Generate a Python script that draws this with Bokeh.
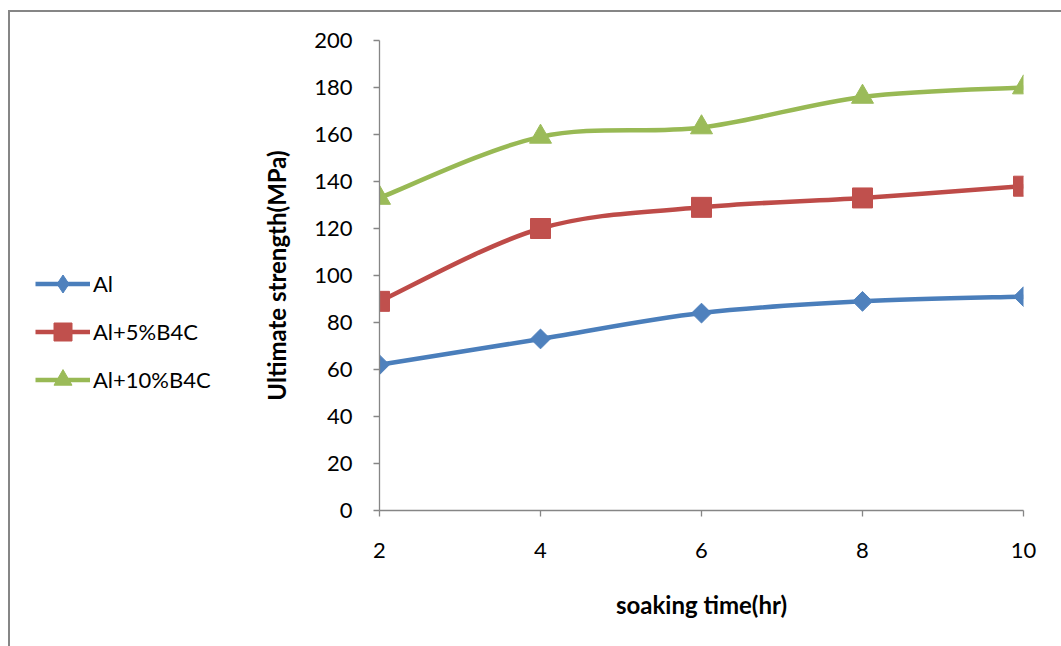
import math
from bokeh.plotting import figure
from bokeh.layouts import row
from bokeh.models import (Range1d, FixedTicker, Legend, LegendItem, ColumnDataSource,
                          InlineStyleSheet)
from bokeh.embed import file_html
from bokeh.resources import INLINE

soaking_time = [2, 4, 6, 8, 10]
al = [62, 73, 84, 89, 91]
al_5b4c = [89, 120, 129, 133, 138]
al_10b4c = [133, 159, 163, 176, 180]
x_ticks = [2, 4, 6, 8, 10]
y_ticks = [0, 20, 40, 60, 80, 100, 120, 140, 160, 180, 200]

# name, values, line colour, marker colour, marker, size, angle, legend marker
series = [
    ("Al", al, "#4A7EBB", "#4F81BD", "square", 14, math.pi / 4, "diamond"),
    ("Al+5%B4C", al_5b4c, "#BE4B48", "#C0504D", "square", 20, 0.0, "square"),
    ("Al+10%B4C", al_10b4c, "#98B954", "#9BBB59", "triangle", 22, 0.0, "triangle"),
]

FONT = "Lato"
LEFT_W = 245

# ---------------- main chart ----------------
p = figure(width=1061 - LEFT_W, height=646, output_backend="svg", toolbar_location=None,
           x_range=Range1d(2, 10), y_range=Range1d(0, 200),
           min_border_left=379 - LEFT_W, min_border_right=38, min_border_top=40,
           min_border_bottom=136)
p.outline_line_color = None
p.xgrid.visible = False
p.ygrid.visible = False

for ax in (p.xaxis[0], p.yaxis[0]):
    ax.axis_line_color = "#868686"
    ax.major_tick_line_color = "#868686"
    ax.axis_line_width = 1.3
    ax.major_tick_line_width = 1.3
    ax.major_tick_out = 6
    ax.major_tick_in = 0
    ax.minor_tick_line_color = None
    ax.major_label_text_font = FONT
    ax.major_label_text_font_size = "22px"
    ax.major_label_text_color = "#000000"
    ax.axis_label_text_font = FONT
    ax.axis_label_text_font_size = "24px"
    ax.axis_label_text_font_style = "bold"
    ax.axis_label_text_color = "#000000"

p.xaxis[0].ticker = FixedTicker(ticks=x_ticks)
p.yaxis[0].ticker = FixedTicker(ticks=y_ticks)
p.xaxis[0].axis_label = "soaking time(hr)"
p.yaxis[0].axis_label = "Ultimate strength(MPa)"
p.xaxis[0].major_label_standoff = 26
p.yaxis[0].major_label_standoff = 21
p.xaxis[0].axis_label_standoff = 29
p.yaxis[0].axis_label_standoff = 20


def smooth_segments(xs, ys):
    n = len(xs)
    seg = dict(x0=[], y0=[], x1=[], y1=[], cx0=[], cy0=[], cx1=[], cy1=[])
    for i in range(n - 1):
        i0 = max(i - 1, 0)
        i3 = min(i + 2, n - 1)
        seg["x0"].append(xs[i]); seg["y0"].append(ys[i])
        seg["x1"].append(xs[i + 1]); seg["y1"].append(ys[i + 1])
        seg["cx0"].append(xs[i] + (xs[i + 1] - xs[i0]) / 6)
        seg["cy0"].append(ys[i] + (ys[i + 1] - ys[i0]) / 6)
        seg["cx1"].append(xs[i + 1] - (xs[i3] - xs[i]) / 6)
        seg["cy1"].append(ys[i + 1] - (ys[i3] - ys[i]) / 6)
    return seg


for name, vals, lcol, mcol, marker, size, ang, lmarker in series:
    src = ColumnDataSource(smooth_segments(soaking_time, vals))
    p.bezier(x0="x0", y0="y0", x1="x1", y1="y1", cx0="cx0", cy0="cy0",
             cx1="cx1", cy1="cy1", source=src, line_color=lcol, line_width=4.5)
    p.scatter(soaking_time, vals, marker=marker, size=size, angle=ang,
              fill_color=mcol, line_color=mcol, line_width=1)

# ---------------- legend panel (left) ----------------
lg = figure(width=LEFT_W, height=646, output_backend="svg", toolbar_location=None,
            x_range=Range1d(0, 1), y_range=Range1d(0, 1),
            x_axis_location=None, y_axis_location=None, min_border=0)
lg.outline_line_color = None
lg.xgrid.visible = False
lg.ygrid.visible = False

NAN = float("nan")
items = []
for name, vals, lcol, mcol, marker, size, ang, lmarker in series:
    lr = lg.line(x=[NAN], y=[NAN], line_color=lcol, line_width=4.5)
    sr = lg.scatter(x=[NAN], y=[NAN], marker=lmarker, size=size,
                    fill_color=mcol, line_color=mcol, line_width=1)
    items.append(LegendItem(label=name, renderers=[lr, sr]))

legend = Legend(items=items, location=(35, 108), border_line_color=None,
                background_fill_alpha=0, padding=0, margin=0, spacing=3,
                glyph_width=55, glyph_height=45, label_standoff=3,
                label_text_font=FONT, label_text_font_size="22px",
                label_text_color="#000000")
lg.add_layout(legend, "center")

border_css = InlineStyleSheet(css="""
:host::after {
  content: "";
  position: absolute;
  left: 8px;
  top: 10px;
  width: 1053px;
  height: 636px;
  box-sizing: border-box;
  border-left: 2px solid #868686;
  border-top: 2px solid #868686;
  pointer-events: none;
}
""")

layout = row(lg, p, spacing=0, stylesheets=[border_css])

open("out.html", "w").write(file_html(layout, INLINE))
